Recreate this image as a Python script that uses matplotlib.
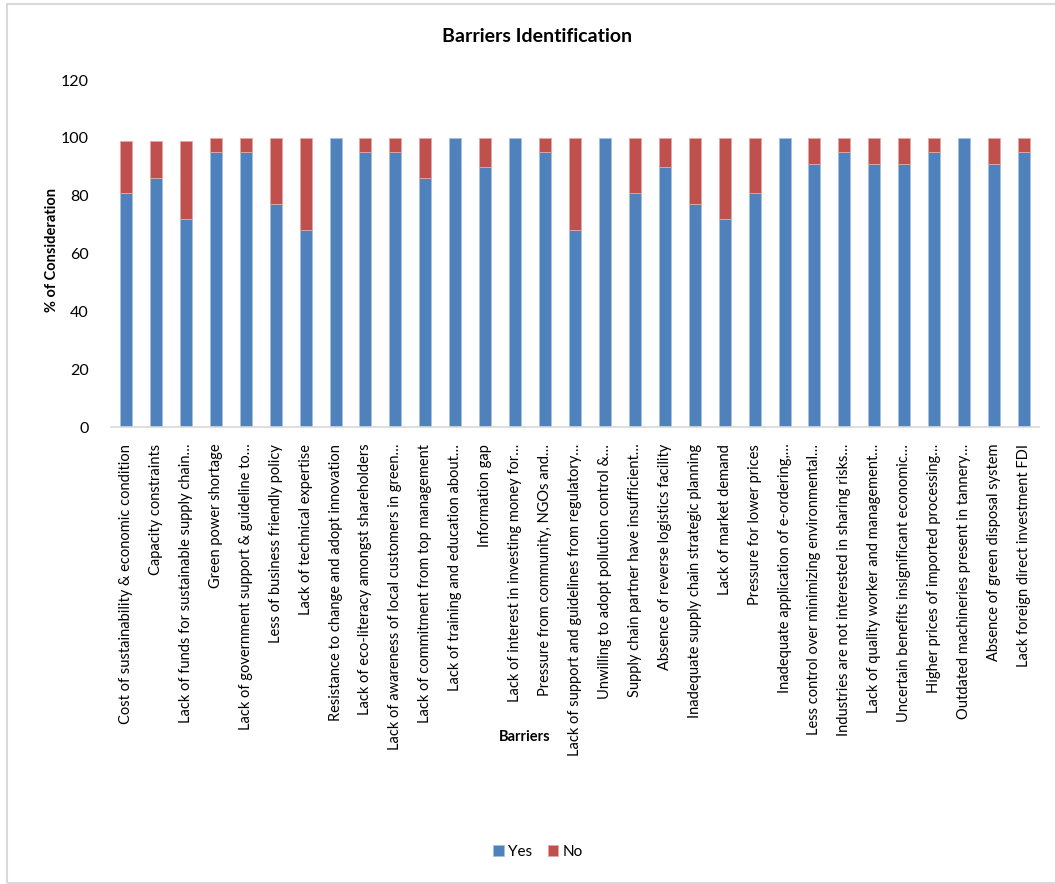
import matplotlib
matplotlib.use("Agg")
import matplotlib.pyplot as plt
from matplotlib.patches import Rectangle
import numpy as np

plt.rcParams['font.family'] = ['Lato', 'DejaVu Sans']

barriers = [
    "Cost of sustainability & economic condition",
    "Capacity constraints",
    "Lack of funds for sustainable supply chain\u2026",
    "Green power shortage",
    "Lack of government support & guideline to\u2026",
    "Less of business friendly policy",
    "Lack of technical expertise",
    "Resistance to change and adopt innovation",
    "Lack of eco-literacy amongst shareholders",
    "Lack of awareness of local customers in green\u2026",
    "Lack of commitment from top management",
    "Lack of training and education about\u2026",
    "Information gap",
    "Lack of interest in investing money for\u2026",
    "Pressure from community, NGOs and\u2026",
    "Lack of support and guidelines from regulatory\u2026",
    "Unwilling to adopt pollution control &\u2026",
    "Supply chain partner have insufficient\u2026",
    "Absence of reverse logistics facility",
    "Inadequate supply chain strategic planning",
    "Lack of market demand",
    "Pressure for lower prices",
    "Inadequate application of e-ordering,\u2026",
    "Less control over minimizing environmental\u2026",
    "Industries are not interested in sharing risks\u2026",
    "Lack of quality worker and management\u2026",
    "Uncertain benefits insignificant economic\u2026",
    "Higher prices of imported processing\u2026",
    "Outdated machineries present in tannery\u2026",
    "Absence of green disposal system",
    "Lack foreign direct investment FDI",
]

yes = [81, 86, 72, 95, 95, 77, 68, 100, 95, 95, 86, 100, 90, 100, 95, 68,
       100, 81, 90, 77, 72, 81, 100, 91, 95, 91, 91, 95, 100, 91, 95]
no = [18, 13, 27, 5, 5, 23, 32, 0, 5, 5, 14, 0, 10, 0, 5, 32,
      0, 19, 10, 23, 28, 19, 0, 9, 5, 9, 9, 5, 0, 9, 5]

W, H = 1055, 884
fig = plt.figure(figsize=(W / 100, H / 100), dpi=100)

# chart border
fig.patches.append(Rectangle((7 / W, 1 - 883 / H), (W + 10 - 7) / W, (883 - 4) / H,
                             transform=fig.transFigure, fill=False,
                             edgecolor='#d9d9d9', linewidth=1.5))

left, right = 111 / W, 1039 / W
bottom, top = 1 - 427 / H, 1 - 80 / H
ax = fig.add_axes([left, bottom, right - left, top - bottom])

x = np.arange(len(barriers))
blue = '#4F81BD'
red = '#C0504D'
ax.bar(x, yes, width=0.4, color=blue,
       edgecolor=['#a7c0de' if v > 0 else 'none' for v in yes],
       linewidth=0.6, label='Yes')
ax.bar(x, no, width=0.4, bottom=yes, color=red,
       edgecolor=['#e0a9a7' if v > 0 else 'none' for v in no],
       linewidth=0.6, label='No')

ax.set_xlim(-0.5, len(barriers) - 0.5)
ax.set_ylim(0, 120)
ax.set_yticks(range(0, 121, 20))
ax.tick_params(axis='y', length=0, pad=16, labelsize=11.5, labelcolor='#000000')
ax.set_xticks(x)
ax.set_xticklabels(barriers, rotation=90, fontsize=10.5)
ax.tick_params(axis='x', length=0, pad=12)

for s in ['top', 'right', 'left']:
    ax.spines[s].set_visible(False)
ax.spines['bottom'].set_color('#d9d9d9')
ax.spines['bottom'].set_linewidth(1.2)

fig.text(537 / W, 1 - 37 / H, "Barriers Identification", ha='center', va='center',
         fontsize=14, fontweight='bold')
fig.text(52 / W, 1 - 250 / H, "% of Consideration", ha='center', va='center',
         rotation=90, fontsize=10.5, fontweight='bold')
fig.text(525 / W, 1 - 737 / H, "Barriers", ha='center', va='center',
         fontsize=10.5, fontweight='bold')

fig.legend(loc='center', bbox_to_anchor=(538 / W, 1 - 852 / H), ncol=2, frameon=False,
           fontsize=11, handlelength=0.7, handleheight=0.7, handletextpad=0.3,
           columnspacing=1.0)

fig.savefig("out.png", dpi=100, facecolor='white')
